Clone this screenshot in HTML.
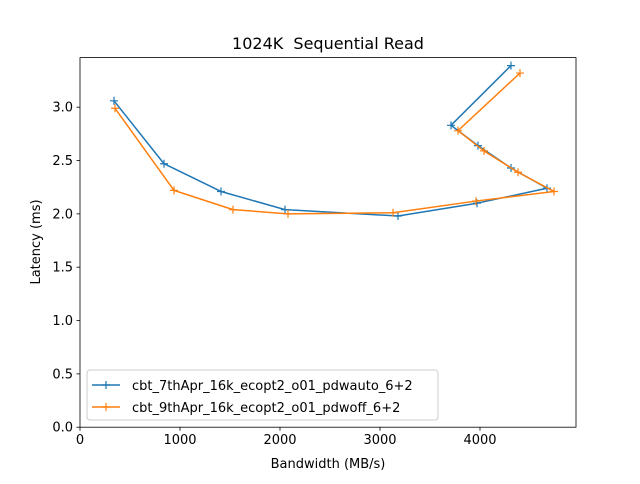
<!DOCTYPE html>
<html><head><meta charset="utf-8"><style>
body{margin:0;background:#fff;font-family:"DejaVu Sans","Liberation Sans",sans-serif;}
svg text{font-family:"DejaVu Sans","Liberation Sans",sans-serif;}
</style></head><body>
<svg id="chart" width="640" height="480" xmlns="http://www.w3.org/2000/svg">
<rect width="640" height="480" fill="#fff"/>
<text x="328" y="49" font-size="16" text-anchor="middle">1024K&#160; Sequential Read</text>
<g id="ticks"></g>
<g id="series"></g>
<rect x="80" y="57.6" width="496" height="369.6" fill="none" stroke="#000" stroke-width="0.8"/>
<text x="328" y="468" font-size="13" text-anchor="middle">Bandwidth (MB/s)</text>
<text transform="translate(40,242) rotate(-90)" font-size="13" text-anchor="middle">Latency (ms)</text>
<g>
<rect x="87" y="370" width="351" height="50" fill="#fff" fill-opacity="0.8" stroke="#ccc" rx="3"/>
<g>
<line x1="92" y1="385" x2="120" y2="385" stroke="#1f77b4" stroke-width="1.5"/>
<path d="M102,385h8M106,381v8" stroke="#1f77b4" stroke-width="1.2"/>
<text x="132" y="390" font-size="13">cbt_7thApr_16k_ecopt2_o01_pdwauto_6+2</text></g>
<g>
<line x1="92" y1="407" x2="120" y2="407" stroke="#ff7f0e" stroke-width="1.5"/>
<path d="M102,407h8M106,403v8" stroke="#ff7f0e" stroke-width="1.2"/>
<text x="132" y="412" font-size="13">cbt_9thApr_16k_ecopt2_o01_pdwoff_6+2</text></g>
</g>
</svg>
<script>
const xTicks=[0,1000,2000,3000,4000];
const yTicks=[0.0,0.5,1.0,1.5,2.0,2.5,3.0];
const autoX=[340,840,1410,2050,3180,3970,4670,4310,3980,3710,4310];
const autoY=[3.06,2.47,2.21,2.04,1.98,2.10,2.24,2.43,2.64,2.83,3.39];
const offX=[350,940,1530,2080,3130,3960,4740,4380,4040,3780,4400];
const offY=[2.99,2.22,2.04,2.00,2.01,2.12,2.21,2.39,2.59,2.78,3.32];
const X0=80,X1=576,Y0=427.2,Y1=57.6,XMAX=4960,YMAX=3.465;
function sx(v){return X0+v/XMAX*(X1-X0);}
function sy(v){return Y0-v/YMAX*(Y0-Y1);}
const NS="http://www.w3.org/2000/svg";
const tg=document.getElementById('ticks');
function mk(tag,attrs,parent){const e=document.createElementNS(NS,tag);for(const k in attrs)e.setAttribute(k,attrs[k]);parent.appendChild(e);return e;}
xTicks.forEach(t=>{
 const l=mk('line',{x1:sx(t),x2:sx(t),y1:Y0,y2:Y0+3.5,stroke:'#000','stroke-width':0.8},tg);
 
 
 const tx=mk('text',{x:sx(t),y:Y0+17,'font-size':13,'text-anchor':'middle'},tg);
 tx.textContent=t;
 
 
});
yTicks.forEach(t=>{
 const l=mk('line',{x1:X0-3.5,x2:X0,y1:sy(t),y2:sy(t),stroke:'#000','stroke-width':0.8},tg);
 
 
 const tx=mk('text',{x:X0-7,y:sy(t)+4.5,'font-size':13,'text-anchor':'end'},tg);
 tx.textContent=t.toFixed(1);
 
 
});
const sg=document.getElementById('series');
function draw(xs,ys,color,name){
 const g=mk('g',{},sg);
 
 
 const pts=xs.map((x,i)=>sx(x)+','+sy(ys[i])).join(' ');
 const pl=mk('polyline',{points:pts,fill:'none',stroke:color,'stroke-width':1.5,'stroke-linejoin':'round'},g);
 
 
 xs.forEach((x,i)=>{
  const px=sx(x),py=sy(ys[i]);
  const m=mk('path',{d:`M${px-4},${py}h8M${px},${py-4}v8`,stroke:color,'stroke-width':1.2},g);
  
  
 });
}
draw(autoX,autoY,'#1f77b4','series-pdwauto');
draw(offX,offY,'#ff7f0e','series-pdwoff');
</script>
</body></html>
